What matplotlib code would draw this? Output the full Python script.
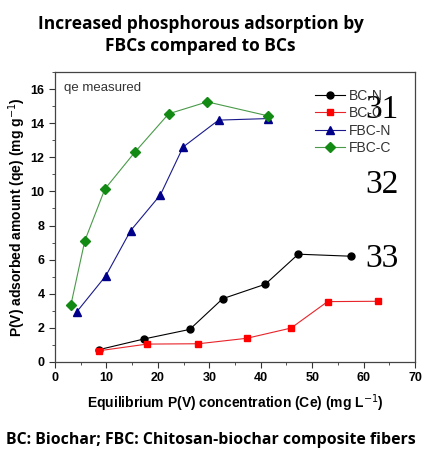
import matplotlib.pyplot as plt
from matplotlib.ticker import MultipleLocator

# data
bcn_x = [8.5, 17.3, 26.2, 32.6, 40.9, 47.3, 57.6]
bcn_y = [0.72, 1.35, 1.91, 3.71, 4.56, 6.32, 6.2]
bcc_x = [8.6, 17.9, 27.9, 37.3, 45.9, 53.0, 62.9]
bcc_y = [0.66, 1.05, 1.07, 1.39, 1.99, 3.54, 3.56]
fbcn_x = [4.2, 9.9, 14.7, 20.5, 24.9, 31.8, 41.4]
fbcn_y = [2.93, 5.06, 7.70, 9.80, 12.6, 14.18, 14.27]
fbcc_x = [3.1, 5.8, 9.7, 15.5, 22.1, 29.6, 41.4]
fbcc_y = [3.36, 7.11, 10.14, 12.29, 14.55, 15.25, 14.43]

plt.rcParams['font.family'] = ['Liberation Sans', 'DejaVu Sans']

fig = plt.figure(figsize=(4.22, 4.51), dpi=100)
ax = fig.add_axes([55/422, 1-362/451, 360/422, 290/451])

ax.plot(bcn_x, bcn_y, color='black', lw=0.8, marker='o', ms=5, label='BC-N')
ax.plot(bcc_x, bcc_y, color='#e8242a', lw=0.8, marker='s', ms=5, mfc='red', mec='red', label='BC-C')
ax.plot(fbcn_x, fbcn_y, color='#1a1a8c', lw=0.8, marker='^', ms=5.5, mfc='#00008b', mec='#00008b', label='FBC-N')
ax.plot(fbcc_x, fbcc_y, color='#4a9a4a', lw=0.8, marker='D', ms=5, mfc='#138a13', mec='#138a13', label='FBC-C')

ax.set_xlim(0, 70)
ax.set_ylim(0, 17)
ax.xaxis.set_major_locator(MultipleLocator(10))
ax.xaxis.set_minor_locator(MultipleLocator(5))
ax.yaxis.set_major_locator(MultipleLocator(2))
ax.yaxis.set_minor_locator(MultipleLocator(1))
ax.tick_params(which='both', direction='out', top=False, right=False, color='#333333')
ax.tick_params(which='major', length=4, labelsize=9)
ax.tick_params(which='minor', length=2.5)
for lab in ax.get_xticklabels() + ax.get_yticklabels():
    lab.set_fontweight('bold')
for s in ax.spines.values():
    s.set_color('#444444')
    s.set_linewidth(0.9)

ax.set_xlabel('Equilibrium P(V) concentration (Ce) (mg L$^{-1}$)', fontsize=10, fontweight='bold', labelpad=6)
ax.set_ylabel('P(V) adsorbed amount (qe) (mg g$^{-1}$)', fontsize=10, fontweight='bold', labelpad=2)

leg = ax.legend(loc='upper right', bbox_to_anchor=(0.97, 0.985), frameon=False, fontsize=10,
                handlelength=2.2, handletextpad=0.3, labelspacing=0.25)
for t in leg.get_texts():
    t.set_color('#333333')

ax.text(0.025, 0.965, 'qe measured', transform=ax.transAxes, fontsize=9.5, color='#333333', va='top')

for txt, yy in [('31', 0.87), ('32', 0.61), ('33', 0.355)]:
    ax.text(0.955, yy, txt, transform=ax.transAxes, fontsize=24, family='Liberation Serif',
            ha='right', va='center', color='black')

fig.text(0.475, 1-35/451, 'Increased phosphorous adsorption by\nFBCs compared to BCs', ha='center', va='center',
         fontsize=12.5, fontweight='bold', family='Open Sans', linespacing=1.35)
fig.text(0.5, 1-440/451, 'BC: Biochar; FBC: Chitosan-biochar composite fibers', ha='center', va='center',
         fontsize=11.4, fontweight='bold', family='Open Sans')

fig.savefig('out.png', dpi=100)
